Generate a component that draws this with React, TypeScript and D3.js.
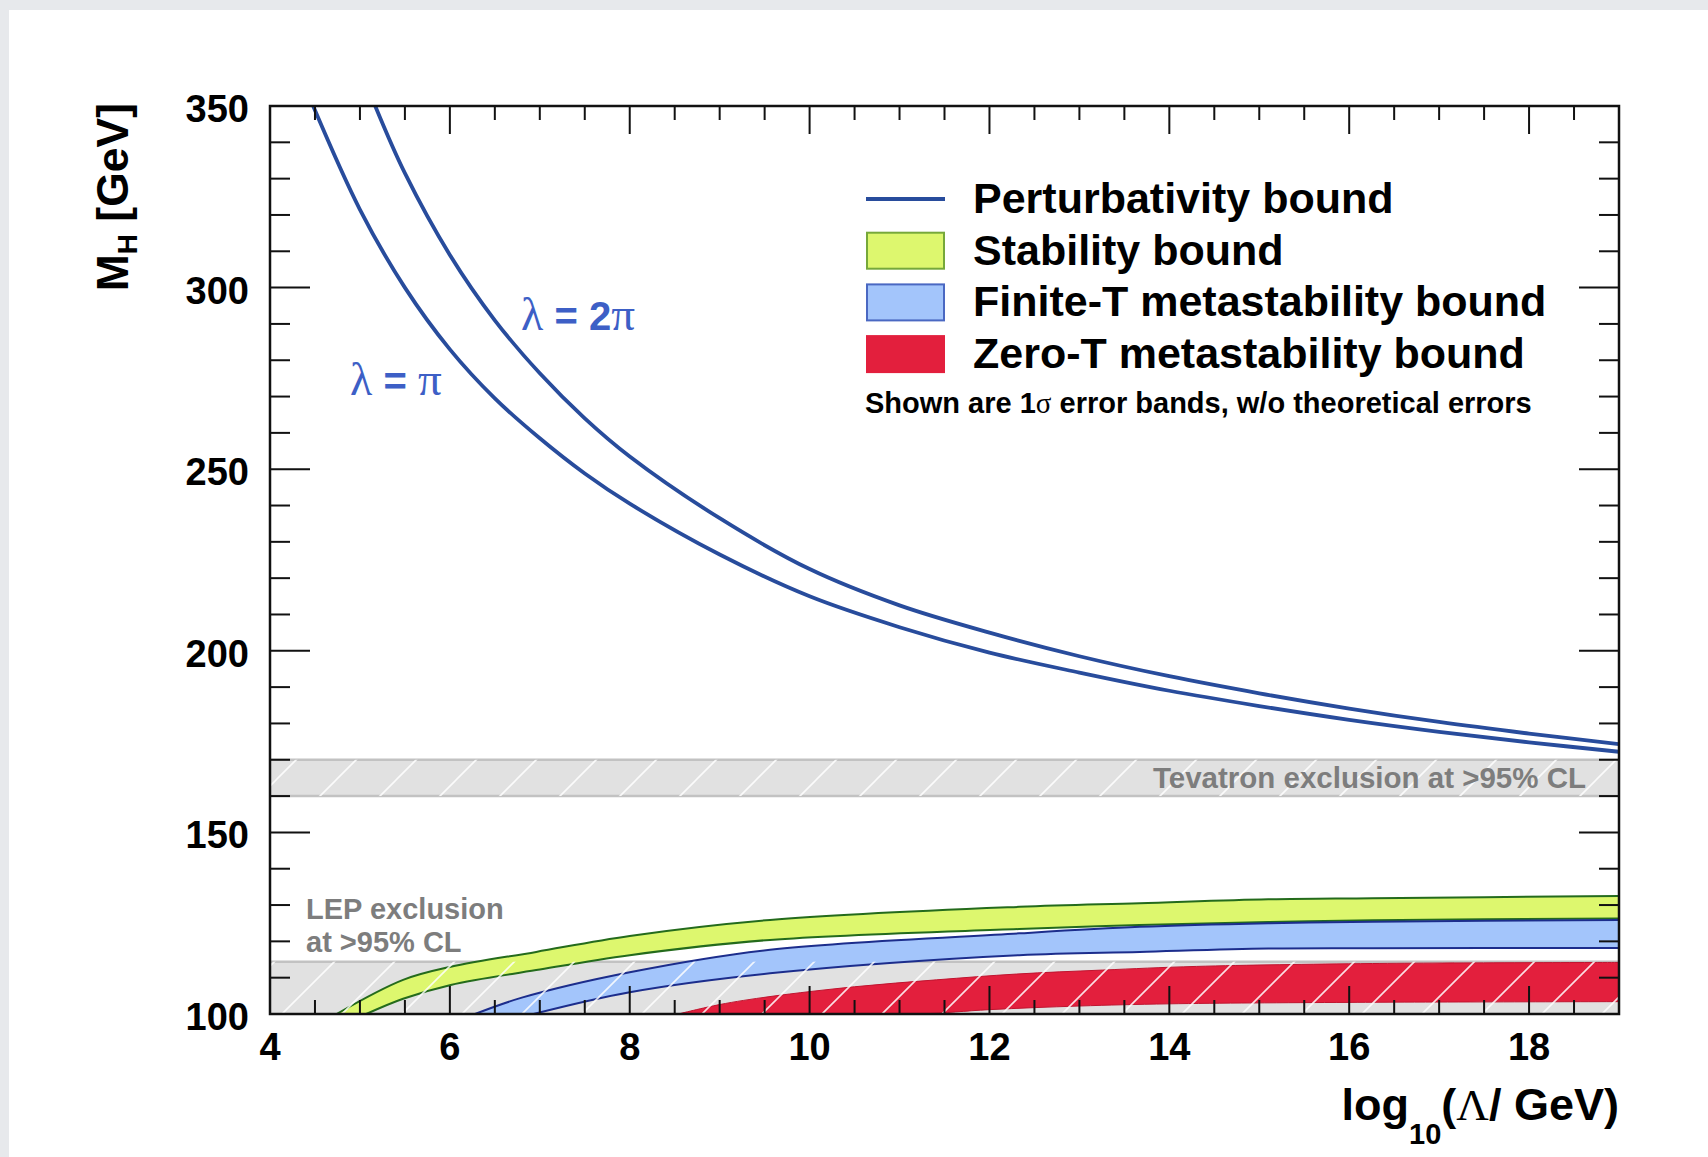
import React from 'react';
import * as d3 from 'd3';

// axis labels
const xTickLabels = [4, 6, 8, 10, 12, 14, 16, 18];
const yTickLabels = [100, 150, 200, 250, 300, 350];

// perturbativity bound, lambda = pi
const piX = [4.48, 5, 5.5, 6, 6.5, 7, 7.5, 8, 9, 10, 11, 12, 13, 14, 15, 16, 17, 18, 19];
const piM = [350, 321.5, 300, 283, 269.5, 258.5, 248.8, 240.5, 226.5, 215, 206.5, 199.5, 194, 189, 184.8, 181, 177.7, 174.8, 172.2];
// perturbativity bound, lambda = 2 pi
const twoPiX = [5.17, 5.5, 6, 6.5, 7, 7.5, 8, 9, 10, 11, 12, 13, 14, 15, 16, 17, 18, 19];
const twoPiM = [350, 331.5, 309, 291, 276.4, 264, 253.5, 236.5, 222.5, 212.5, 205, 198.5, 193, 188.3, 184.1, 180.4, 177.2, 174.3];

// stability band
const stabUpX = [4.74, 5.48, 6.01, 6.96, 8.0, 9.56, 12.33, 13.67, 15.1, 16.26, 19];
const stabUpM = [100, 109.4, 113, 117.1, 121.5, 125.9, 129.5, 130.5, 131.6, 131.9, 132.5];
const stabLoX = [5.07, 5.48, 6.01, 6.96, 8.0, 9.56, 12.33, 13.67, 15.1, 16.26, 19];
const stabLoM = [100, 104.2, 108, 112.1, 116.2, 120.4, 123.4, 124.5, 125.3, 125.8, 126.3];

// finite-T metastability band
const finUpX = [6.28, 6.8, 8.0, 9.56, 12.33, 13.67, 15.1, 16.26, 19];
const finUpM = [100, 104.5, 111.5, 117.7, 122.2, 124, 125, 125.4, 125.9];
const finLoX = [6.93, 8.0, 9.56, 12.33, 13.67, 15.1, 16.26, 19];
const finLoM = [100, 106, 111.2, 116.2, 117.1, 118, 118.1, 118.2];

// zero-T metastability band
const zeroUpX = [8.54, 9.0, 9.56, 10.5, 11.41, 12.3, 13.26, 14.3, 16.26, 19];
const zeroUpM = [100, 102.6, 104.8, 107.5, 109.4, 111, 112.1, 113.1, 113.9, 114.2];
const zeroLoX = [8.54, 11.2, 12, 13, 14, 16, 19];
const zeroLoM = [100, 100, 101.2, 102.2, 102.8, 103.2, 103.4];

// exclusion regions
const lepRange = [100, 114.4];
const tevRange = [160, 170];

const legendLabels = ['Perturbativity bound', 'Stability bound', 'Finite-T metastability bound', 'Zero-T metastability bound'];

const W = 1708;
const H = 1157;
const left = 270, right = 1619, top = 106, bottom = 1014;
const sans = '"Liberation Sans", Arial, Helvetica, sans-serif';
const serif = '"Liberation Serif", "Times New Roman", serif';
const blue = '#284c9c';

export default function App() {
  const x = d3.scaleLinear().domain([4, 19]).range([left, right]);
  const y = d3.scaleLinear().domain([100, 350]).range([bottom, top]);

  const pts = (xs: number[], ms: number[]) => xs.map((v, i) => [v, ms[i]] as [number, number]);
  const line = d3.line<[number, number]>().x(d => x(d[0])).y(d => y(d[1])).curve(d3.curveCatmullRom.alpha(0.5));

  const band = (ux: number[], um: number[], lx: number[], lm: number[]) => {
    const up = line(pts(ux, um)) || '';
    const lo = (line(pts(lx, lm).reverse()) || '').replace(/^M/, 'L');
    return up + lo + 'Z';
  };

  const xTicks = x.ticks(30);
  const yTicks = y.ticks(25);

  const bands = [
    { d: band(stabUpX, stabUpM, stabLoX, stabLoM), fill: '#ddf76e', edge: '#246b1c', ux: stabUpX, um: stabUpM, lx: stabLoX, lm: stabLoM },
    { d: band(finUpX, finUpM, finLoX, finLoM), fill: '#a3c5fb', edge: '#1c2d8c', ux: finUpX, um: finUpM, lx: finLoX, lm: finLoM },
    { d: band(zeroUpX, zeroUpM, zeroLoX, zeroLoM), fill: '#e31f3d', edge: '#c0142f', ux: zeroUpX, um: zeroUpM, lx: zeroLoX, lm: zeroLoM },
  ];

  const legendFill = [null, '#ddf76e', '#a3c5fb', '#e31f3d'];
  const legendEdge = [blue, '#76a83a', '#4a68c2', '#e31f3d'];

  return (
    <svg width={W} height={H} style={{ position: 'absolute', left: 0, top: 0 }} fontFamily={sans}>
      <defs>
        <clipPath id="plot">
          <rect x={left} y={top} width={right - left} height={bottom - top} />
        </clipPath>
        <pattern id="hatch" width={60} height={60} patternUnits="userSpaceOnUse" x={276} y={0}>
          <path d="M-15,15L15,-15M0,60L60,0M45,75L75,45" stroke="#fff" strokeWidth={1.6} opacity={0.85} />
        </pattern>
      </defs>
      <rect x={0} y={0} width={W} height={H} fill="#e7e9ec" />
      <rect x={9} y={10} width={W - 9} height={H - 10} fill="#fff" />

      <g clipPath="url(#plot)">
        {/* exclusion regions */}
        {[lepRange, tevRange].map((r, i) => (
          <rect key={'ex' + i} x={left} width={right - left} y={y(r[1])} height={y(r[0]) - y(r[1])} fill="#e1e1e1" />
        ))}
        <line x1={left} x2={right} y1={y(lepRange[1])} y2={y(lepRange[1])} stroke="#c2c2c2" strokeWidth={2.5} />
        {tevRange.map((v, i) => (
          <line key={'tv' + i} x1={left} x2={right} y1={y(v)} y2={y(v)} stroke="#c2c2c2" strokeWidth={2.5} />
        ))}

        {/* bands */}
        {bands.map((b, i) => (
          <g key={'b' + i}>
            <path d={b.d} fill={b.fill} />
            <path d={line(pts(b.ux, b.um)) || ''} fill="none" stroke={b.edge} strokeWidth={i === 2 ? 1 : 2} />
            <path d={line(pts(b.lx, b.lm)) || ''} fill="none" stroke={b.edge} strokeWidth={i === 2 ? 1 : 2} />
          </g>
        ))}

        {/* hatching */}
        {[lepRange, tevRange].map((r, i) => (
          <rect key={'h' + i} x={left} width={right - left} y={y(r[1])} height={y(r[0]) - y(r[1])} fill="url(#hatch)" />
        ))}

        {/* perturbativity curves */}
        <path d={line(pts(piX, piM)) || ''} fill="none" stroke={blue} strokeWidth={3.8} />
        <path d={line(pts(twoPiX, twoPiM)) || ''} fill="none" stroke={blue} strokeWidth={3.8} />
      </g>

      {/* frame and ticks */}
      <rect x={left} y={top} width={right - left} height={bottom - top} fill="none" stroke="#111" strokeWidth={2.5} />
      {xTicks.map(t => {
        const major = t % 2 === 0;
        const len = major ? 28 : 14;
        return (
          <g key={'xt' + t} stroke="#111" strokeWidth={2}>
            <line x1={x(t)} x2={x(t)} y1={bottom} y2={bottom - len} />
            <line x1={x(t)} x2={x(t)} y1={top} y2={top + len} />
          </g>
        );
      })}
      {yTicks.map(t => {
        const major = t % 50 === 0;
        const len = major ? 40 : 20;
        return (
          <g key={'yt' + t} stroke="#111" strokeWidth={2}>
            <line x1={left} x2={left + len} y1={y(t)} y2={y(t)} />
            <line x1={right} x2={right - len} y1={y(t)} y2={y(t)} />
          </g>
        );
      })}

      {/* tick labels */}
      {xTickLabels.map(t => (
        <text key={'xl' + t} x={x(t)} y={bottom + 46} textAnchor="middle" fontSize={38} fontWeight="bold" fill="#000">{t}</text>
      ))}
      {yTickLabels.map(t => (
        <text key={'yl' + t} x={left - 21} y={y(t) + 16} textAnchor="end" fontSize={38} fontWeight="bold" fill="#000">{t}</text>
      ))}

      {/* axis titles */}
      <text transform={`translate(128,${top - 3}) rotate(-90)`} textAnchor="end" fontSize={44.5} fontWeight="bold" fill="#000">
        M<tspan fontSize={28} dy={9}>H</tspan><tspan dy={-9}> [GeV]</tspan>
      </text>
      <text x={right} y={1120} textAnchor="end" fontSize={45} fontWeight="bold" fill="#000">
        log<tspan fontSize={29} dy={24}>10</tspan><tspan dy={-24}>(</tspan><tspan fontFamily={serif} fontWeight="normal">Λ</tspan>/ GeV)
      </text>

      {/* curve labels */}
      <text x={521} y={330} fontSize={40} fill="#3d5fc6">
        <tspan fontFamily={serif} fontSize={46}>λ</tspan><tspan fontWeight="bold"> = 2</tspan><tspan fontFamily={serif} fontSize={47}>π</tspan>
      </text>
      <text x={350} y={395} fontSize={40} fill="#3d5fc6">
        <tspan fontFamily={serif} fontSize={46}>λ</tspan><tspan fontWeight="bold"> = </tspan><tspan fontFamily={serif} fontSize={47}>π</tspan>
      </text>

      {/* exclusion labels */}
      <text x={1586} y={788} textAnchor="end" fontSize={29.5} fontWeight="bold" fill="#7d7d7d">Tevatron exclusion at &gt;95% CL</text>
      <text x={306} y={919} fontSize={29} fontWeight="bold" fill="#7d7d7d">LEP exclusion</text>
      <text x={306} y={952} fontSize={29} fontWeight="bold" fill="#7d7d7d">at &gt;95% CL</text>

      {/* legend */}
      {legendLabels.map((lab, i) => {
        const cy = 199 + i * 51.7;
        return (
          <g key={'lg' + i}>
            {i === 0 ? (
              <line x1={866} x2={945} y1={cy} y2={cy} stroke={legendEdge[i]} strokeWidth={4} />
            ) : (
              <rect x={867} y={cy - 18} width={77} height={36} fill={legendFill[i] || 'none'} stroke={legendEdge[i]} strokeWidth={2} />
            )}
            <text x={973} y={cy + 14} fontSize={43} fontWeight="bold" fill="#000">{lab}</text>
          </g>
        );
      })}
      <text x={865} y={413} fontSize={29} fontWeight="bold" fill="#000">
        Shown are 1<tspan fontFamily={serif} fontWeight="normal">σ</tspan> error bands, w/o theoretical errors
      </text>
    </svg>
  );
}
